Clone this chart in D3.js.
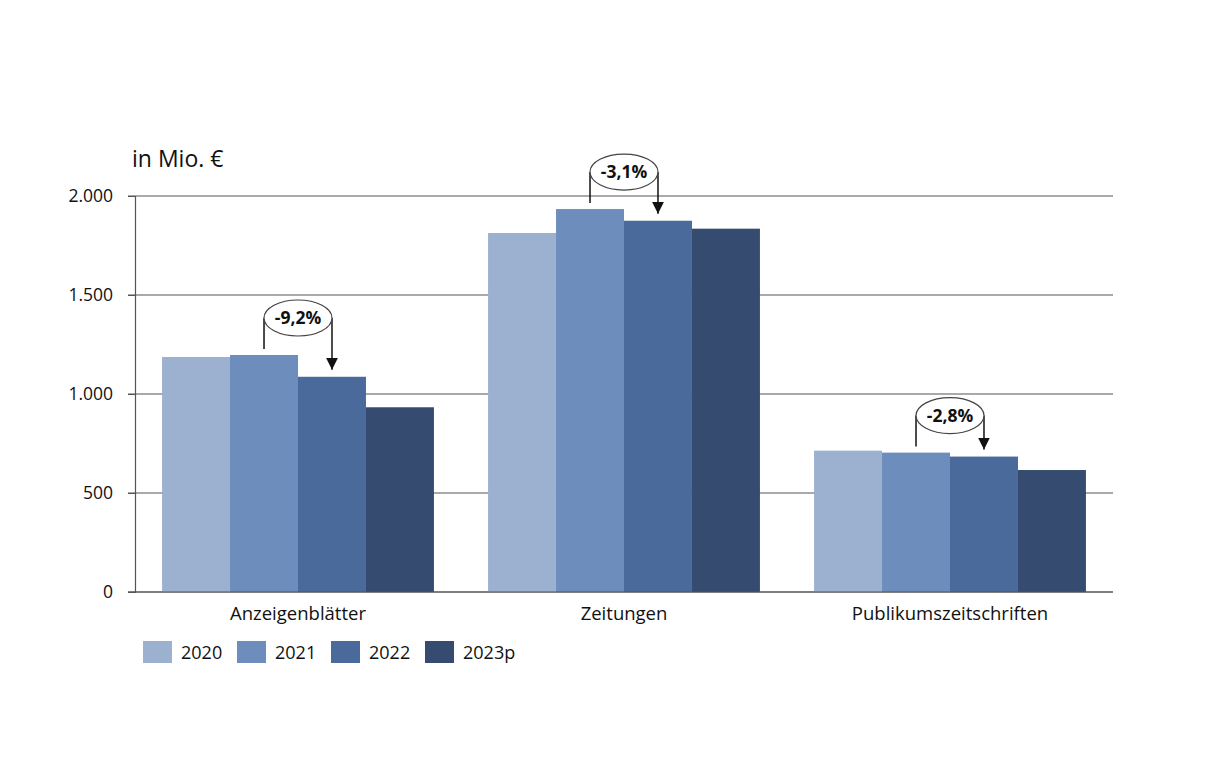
<!DOCTYPE html>
<html>
<head>
<meta charset="utf-8">
<script src="https://cdn.jsdelivr.net/npm/d3@7"></script>
<style>
  body { margin: 0; background: #fff; }
  text { font-family: "Open Sans", sans-serif; fill: #111; }
</style>
</head>
<body>
<script>
  const categories = ['Anzeigenblätter', 'Zeitungen', 'Publikumszeitschriften'];
  const years = ['2020', '2021', '2022', '2023p'];
  const values2020 = [1187, 1813, 714];
  const values2021 = [1197, 1934, 704];
  const values2022 = [1087, 1875, 684];
  const values2023 = [933, 1835, 616];
  const changeLabels = ['-9,2%', '-3,1%', '-2,8%'];
  const yTicks = [0, 500, 1000, 1500, 2000];
  const colors = ['#9cb0d0', '#6d8dbd', '#4a6a9b', '#354c70'];

  const series = [values2020, values2021, values2022, values2023];

  const width = 1209;
  const height = 768;
  const plotLeft = 135, plotRight = 1113, plotTop = 196, plotBottom = 592;

  const svg = d3.select('body')
          .append('svg')
          .attr('width', width)
          .attr('height', height);

  const y = d3.scaleLinear().domain([0, 2000]).range([plotBottom, plotTop]);
  const x0 = d3.scaleBand().domain(categories).range([plotLeft, plotRight]).padding(0);
  const gap = x0.bandwidth() * 0.083;
  const x1 = d3.scaleBand().domain(years).range([gap, x0.bandwidth() - gap]).padding(0);

  // Gitterlinien
  svg.append('g')
          .selectAll('line')
          .data(yTicks)
          .enter()
          .append('line')
          .attr('x1', plotLeft - 7)
          .attr('x2', plotRight)
          .attr('y1', d => y(d))
          .attr('y2', d => y(d))
          .attr('stroke', '#555')
          .attr('stroke-width', 1.2);

  // y-Achse
  const yAxis = d3.axisLeft(y)
          .tickValues(yTicks)
          .tickSize(7)
          .tickFormat(d => d3.format(',')(d).replace(/,/g, '.'));
  const ya = svg.append('g')
          .attr('transform', `translate(${plotLeft},0)`)
          .call(yAxis);
  ya.select('.domain').attr('stroke', '#555').attr('stroke-width', 1.2);
  ya.selectAll('.tick line').attr('stroke', '#555');
  ya.selectAll('.tick text')
          .attr('x', -22)
          .attr('font-size', 17.5)
          .attr('font-family', '"Open Sans", sans-serif')
          .attr('fill', '#111');

  // Balken
  const rows = categories.map((c, i) => ({ cat: c, vals: series.map(s => s[i]) }));
  const groups = svg.append('g')
          .selectAll('g')
          .data(rows)
          .enter()
          .append('g')
          .attr('transform', d => `translate(${x0(d.cat)},0)`);

  groups.selectAll('rect')
          .data(d => d.vals.map((v, j) => ({ year: years[j], value: v, j })))
          .enter()
          .append('rect')
          .attr('x', d => x1(d.year))
          .attr('width', x1.bandwidth())
          .attr('y', d => y(d.value))
          .attr('height', d => y(0) - y(d.value))
          .attr('fill', d => colors[d.j]);

  // Nulllinie über den Balken
  svg.append('line')
          .attr('x1', plotLeft - 7).attr('x2', plotRight)
          .attr('y1', y(0)).attr('y2', y(0))
          .attr('stroke', '#555').attr('stroke-width', 1.2);

  // Kategorie-Beschriftungen
  svg.append('g')
          .selectAll('text')
          .data(categories)
          .enter()
          .append('text')
          .attr('x', d => x0(d) + x0.bandwidth() / 2)
          .attr('y', 620)
          .attr('text-anchor', 'middle')
          .attr('font-size', 18.5)
          .text(d => d);

  // Veränderung 2021 -> 2022
  svg.append('defs').append('marker')
          .attr('id', 'arrow')
          .attr('viewBox', '0 0 10 10')
          .attr('refX', 10).attr('refY', 5)
          .attr('markerWidth', 12).attr('markerHeight', 12)
          .attr('markerUnits', 'userSpaceOnUse')
          .attr('orient', 'auto')
          .append('path')
          .attr('d', 'M0,0L10,5L0,10Z')
          .attr('fill', '#111');

  const ann = svg.append('g')
          .selectAll('g')
          .data(rows.map((r, i) => ({ cat: r.cat, a: r.vals[1], b: r.vals[2], label: changeLabels[i] })))
          .enter()
          .append('g');

  ann.each(function(d) {
    const g = d3.select(this);
    const xa = x0(d.cat) + x1('2021') + x1.bandwidth() / 2;
    const xb = x0(d.cat) + x1('2022') + x1.bandwidth() / 2;
    const cy = y(d.a) - 37;
    g.append('line')
            .attr('x1', xa).attr('x2', xa)
            .attr('y1', cy).attr('y2', y(d.a) - 6)
            .attr('stroke', '#111').attr('stroke-width', 1.5);
    g.append('line')
            .attr('x1', xb).attr('x2', xb)
            .attr('y1', cy).attr('y2', y(d.b) - 7)
            .attr('stroke', '#111').attr('stroke-width', 1.5)
            .attr('marker-end', 'url(#arrow)');
    g.append('ellipse')
            .attr('cx', (xa + xb) / 2).attr('cy', cy)
            .attr('rx', (xb - xa) / 2).attr('ry', 18)
            .attr('fill', '#fff')
            .attr('stroke', '#444').attr('stroke-width', 1.2);
    g.append('text')
            .attr('x', (xa + xb) / 2).attr('y', cy + 6)
            .attr('text-anchor', 'middle')
            .attr('font-size', 17.5)
            .attr('font-weight', 'bold')
            .text(d.label);
  });

  // Einheit
  svg.append('text')
          .attr('x', 132).attr('y', 167)
          .attr('font-size', 23)
          .text('in Mio. €');

  // Legende
  const legend = svg.append('g')
          .selectAll('g')
          .data(years)
          .enter()
          .append('g')
          .attr('transform', (d, i) => `translate(${143 + i * 94},641)`);
  legend.append('rect')
          .attr('width', 29).attr('height', 22)
          .attr('fill', (d, i) => colors[i]);
  legend.append('text')
          .attr('x', 38).attr('y', 18)
          .attr('font-size', 18)
          .text(d => d);
</script>
</body>
</html>
